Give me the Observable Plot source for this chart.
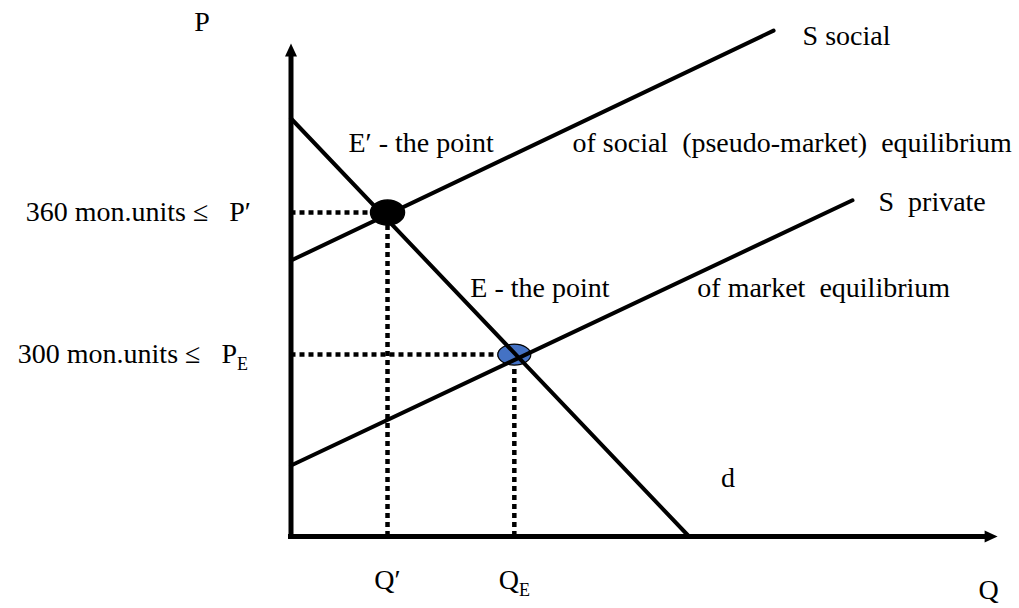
<!DOCTYPE html>
<html>
<head>
<meta charset="utf-8">
<script src="https://cdn.jsdelivr.net/npm/d3@7"></script>
<script src="https://cdn.jsdelivr.net/npm/@observablehq/plot@0.6"></script>
<style>
  html, body { margin: 0; padding: 0; background: #fff; }
  #chart svg { display: block; overflow: visible; }
</style>
</head>
<body>
<div id="chart"></div>
<script>
// ---- data (abstract quantity / price units) ----
const demand   = [{q: 0, p: 81.8}, {q: 56.5, p: 0}];
const sSocial  = [{q: 0, p: 54.0}, {q: 68.5, p: 99.0}];
const sPrivate = [{q: 0, p: 13.9}, {q: 79.7, p: 65.8}];
const eqSocial = {q: 13.7, p: 63.4, price: "360 mon.units ≤   P′", qty: "Q′"};
const eqMarket = {q: 31.7, p: 35.6, price: "300 mon.units ≤   P_E", qty: "Q_E"};
const axisTop = 96.5;   // y-axis arrow tip
const axisRight = 100.3; // x-axis arrow tip
const labels = {
  P: "P", Q: "Q", d: "d",
  social: "S social", private: "S  private",
  eqSocialA: "E′ - the point", eqSocialB: "of social  (pseudo-market)  equilibrium",
  eqMarketA: "E - the point", eqMarketB: "of market  equilibrium"
};

const FONT = "'Liberation Serif', 'Times New Roman', serif";
const FS = 28;

function ellipse(rx, ry) {
  const k = 0.5523;
  return {draw(ctx) {
    ctx.moveTo(rx, 0);
    ctx.bezierCurveTo(rx, ry * k, rx * k, ry, 0, ry);
    ctx.bezierCurveTo(-rx * k, ry, -rx, ry * k, -rx, 0);
    ctx.bezierCurveTo(-rx, -ry * k, -rx * k, -ry, 0, -ry);
    ctx.bezierCurveTo(rx * k, -ry, rx, -ry * k, rx, 0);
    ctx.closePath();
  }};
}
const arrowHead = {draw(ctx) {
  ctx.moveTo(0, 0); ctx.lineTo(-6, 13); ctx.lineTo(6, 13); ctx.closePath();
}};

const txt = (data, opts) => Plot.text(data, {fontFamily: FONT, fontSize: FS, fill: "#000", ...opts});

const chart = Plot.plot({
  width: 1019,
  height: 608,
  marginLeft: 290.5,
  marginRight: 24,
  marginTop: 25,
  marginBottom: 72,
  x: {domain: [0, 100], axis: null},
  y: {domain: [0, 100], axis: null},
  style: {background: "#fff", overflow: "visible"},
  marks: [
    // dotted guides
    Plot.ruleY([eqSocial, eqMarket], {y: "p", x1: 0, x2: "q", stroke: "#000", strokeWidth: 4.5, strokeDasharray: "5,4"}),
    Plot.ruleX([eqSocial, eqMarket], {x: "q", y1: 0, y2: "p", stroke: "#000", strokeWidth: 4.5, strokeDasharray: "5,4"}),
    // equilibrium points
    Plot.dot([eqSocial], {x: "q", y: "p", symbol: ellipse(17, 12.5), r: 10, fill: "#000", stroke: "#000"}),
    Plot.dot([eqMarket], {x: "q", y: "p", symbol: ellipse(16.5, 10.5), r: 10, fill: "#4472C4", stroke: "#000", strokeWidth: 1.2}),
    // curves
    Plot.line(demand, {x: "q", y: "p", stroke: "#000", strokeWidth: 4}),
    Plot.line(sSocial, {x: "q", y: "p", stroke: "#000", strokeWidth: 4}),
    Plot.line(sPrivate, {x: "q", y: "p", stroke: "#000", strokeWidth: 4}),
    // axes
    Plot.ruleX([0], {y1: 0, y2: axisTop - 2, stroke: "#000", strokeWidth: 5}),
    Plot.ruleY([0], {x1: 0, x2: axisRight - 1, stroke: "#000", strokeWidth: 5, insetLeft: -2.5}),
    Plot.dot([{q: 0, p: axisTop}], {x: "q", y: "p", symbol: arrowHead, r: 5, fill: "#000", stroke: null}),
    Plot.dot([{q: axisRight, p: 0}], {x: "q", y: "p", symbol: arrowHead, r: 5, fill: "#000", stroke: null, rotate: 90}),
    // axis labels
    txt([{q: 0, p: axisTop}], {x: "q", y: "p", text: () => labels.P, dx: -89, dy: -21}),
    txt([{q: 100, p: 0}], {x: "q", y: "p", text: () => labels.Q, dx: -7, dy: 54}),
    // price labels
    txt([eqSocial], {x: () => 0, y: "p", text: "price", textAnchor: "end", dx: -40}),
    txt([eqMarket], {x: () => 0, y: "p", text: "price", textAnchor: "end", dx: -43, dy: -1}),
    // quantity labels
    txt([eqSocial, eqMarket], {x: "q", y: () => 0, text: "qty", dy: 44}),
    // curve labels
    txt([sSocial[1]], {x: "q", y: "p", text: () => labels.social, textAnchor: "start", dx: 29, dy: 5}),
    txt([sPrivate[1]], {x: "q", y: "p", text: () => labels.private, textAnchor: "start", dx: 26, dy: 2}),
    txt([demand[1]], {x: "q", y: "p", text: () => labels.d, dx: 39, dy: -58}),
    // equilibrium descriptions
    txt([eqSocial], {x: "q", y: "p", text: () => labels.eqSocialA, textAnchor: "start", dx: -39, dy: -69}),
    txt([eqSocial], {x: "q", y: "p", text: () => labels.eqSocialB, textAnchor: "start", dx: 185, dy: -69}),
    txt([eqMarket], {x: "q", y: "p", text: () => labels.eqMarketA, textAnchor: "start", dx: -44, dy: -67}),
    txt([eqMarket], {x: "q", y: "p", text: () => labels.eqMarketB, textAnchor: "start", dx: 183, dy: -67})
  ]
});

// subscripts: "X_E" -> X with subscript E
const NS = "http://www.w3.org/2000/svg";
chart.querySelectorAll("text").forEach(t => {
  const s = t.textContent;
  if (s.includes("_")) {
    const [a, b] = s.split("_");
    t.textContent = a;
    const ts = document.createElementNS(NS, "tspan");
    ts.setAttribute("font-size", "18");
    ts.setAttribute("dy", "7");
    ts.textContent = b;
    t.appendChild(ts);
  }
});

document.getElementById("chart").appendChild(chart);
</script>
</body>
</html>
